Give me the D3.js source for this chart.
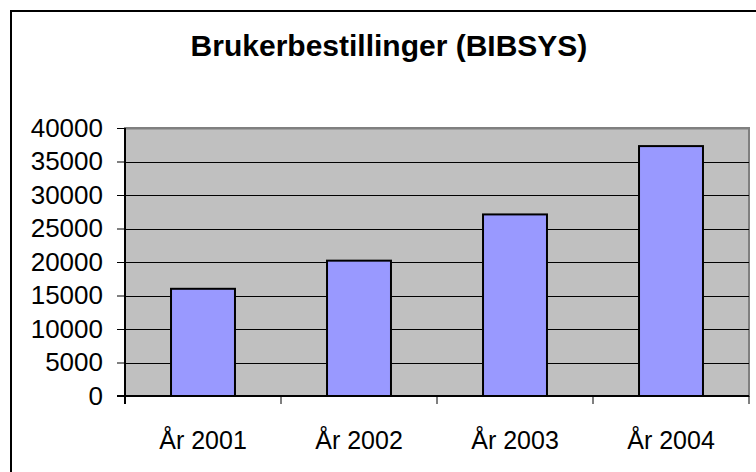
<!DOCTYPE html>
<html>
<head>
<meta charset="utf-8">
<script src="https://cdn.jsdelivr.net/npm/d3@7"></script>
<style>
  html, body { margin: 0; padding: 0; background: #fff; }
  svg { display: block; }
</style>
</head>
<body>
<div id="chart"></div>
<script>
// chart data
var title = "Brukerbestillinger (BIBSYS)";
var categories = ["År 2001", "År 2002", "År 2003", "År 2004"];
var orders = [16000, 20200, 27100, 37300];
var yTicks = [0, 5000, 10000, 15000, 20000, 25000, 30000, 35000, 40000];

var width = 756, height = 472;
var plot = { left: 125, top: 128, right: 749, bottom: 396 };

var svg = d3.select("#chart").append("svg")
    .attr("width", width)
    .attr("height", height)
    .style("font-family", "Arial, 'Liberation Sans', sans-serif");

// outer chart frame (runs off the right and bottom edge)
svg.append("rect")
    .attr("x", 11).attr("y", 11)
    .attr("width", 800).attr("height", 600)
    .attr("fill", "#fff")
    .attr("stroke", "#000")
    .attr("stroke-width", 2);

svg.append("text")
    .attr("x", 389).attr("y", 56)
    .attr("text-anchor", "middle")
    .style("font-size", "30px")
    .style("font-weight", "bold")
    .text(title);

var x = d3.scaleBand()
    .domain(categories)
    .range([plot.left, plot.right])
    .paddingInner(0.59)
    .paddingOuter(0.295);

var y = d3.scaleLinear()
    .domain([0, 40000])
    .range([plot.bottom, plot.top]);

// plot area
svg.append("rect")
    .attr("x", plot.left).attr("y", plot.top)
    .attr("width", plot.right - plot.left)
    .attr("height", plot.bottom - plot.top)
    .attr("fill", "#c0c0c0")
    .attr("stroke", "#808080")
    .attr("stroke-width", 2);

// gridlines
svg.append("g")
    .selectAll("line")
    .data(yTicks.filter(function (d) { return d > 0; }))
    .join("line")
    .attr("x1", plot.left).attr("x2", plot.right)
    .attr("y1", function (d) { return Math.round(y(d)) + 0.5; })
    .attr("y2", function (d) { return Math.round(y(d)) + 0.5; })
    .attr("stroke", function (d) { return d === 40000 ? "#808080" : "#000"; })
    .attr("stroke-width", function (d) { return d === 40000 ? 2 : 1; });

// bars
svg.append("g")
    .selectAll("rect")
    .data(orders)
    .join("rect")
    .attr("x", function (d, i) { return x(categories[i]); })
    .attr("y", function (d) { return y(d); })
    .attr("width", x.bandwidth())
    .attr("height", function (d) { return y(0) - y(d); })
    .attr("fill", "#9999ff")
    .attr("stroke", "#000")
    .attr("stroke-width", 2);

// y axis
var yAxis = svg.append("g")
    .attr("transform", "translate(" + plot.left + ",0)")
    .call(d3.axisLeft(y).tickValues(yTicks).tickSize(8).tickPadding(14).tickFormat(d3.format("d")));
yAxis.select(".domain").attr("stroke", "#000").attr("stroke-width", 2).attr("d", "M0," + plot.top + "V" + (plot.bottom + 8));
yAxis.selectAll(".tick line").attr("stroke", "#000");
yAxis.selectAll("text").style("font-size", "26px").attr("fill", "#000");

// x axis: ticks on category boundaries
var bounds = d3.range(categories.length + 1).map(function (i) {
    return plot.left + i * x.step();
});
var xAxis = svg.append("g");
xAxis.append("line")
    .attr("x1", plot.left - 8).attr("x2", plot.right)
    .attr("y1", plot.bottom).attr("y2", plot.bottom)
    .attr("stroke", "#000").attr("stroke-width", 2);
xAxis.selectAll("line.tk")
    .data(bounds)
    .join("line")
    .attr("class", "tk")
    .attr("x1", function (d) { return d; }).attr("x2", function (d) { return d; })
    .attr("y1", plot.bottom).attr("y2", plot.bottom + 8)
    .attr("stroke", "#000");
xAxis.selectAll("text")
    .data(categories)
    .join("text")
    .attr("x", function (d) { return x(d) + x.bandwidth() / 2; })
    .attr("y", 449)
    .attr("text-anchor", "middle")
    .style("font-size", "25px")
    .text(function (d) { return d; });
</script>
</body>
</html>
